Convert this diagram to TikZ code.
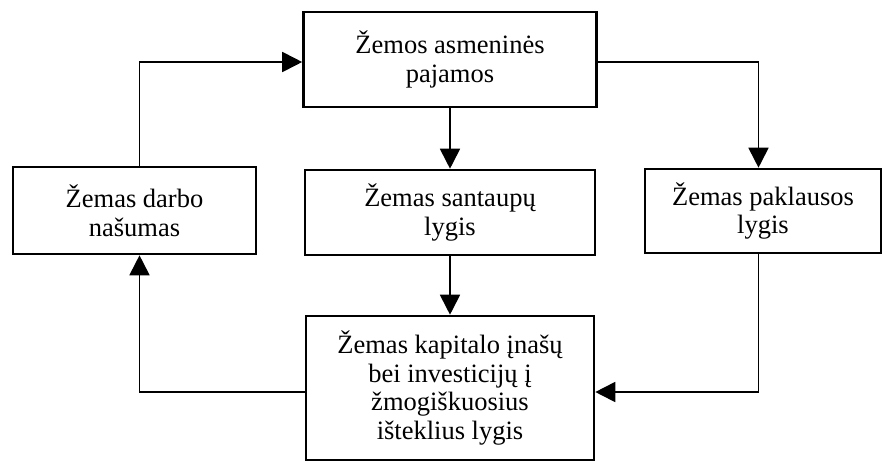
\documentclass[tikz,border=0pt]{standalone}
\usepackage{fontspec}
\setmainfont{Liberation Serif}
\usetikzlibrary{arrows.meta}

\begin{document}
\begin{tikzpicture}[
	x=1pt,y=-1pt,
	boxnode/.style={
		rectangle,draw=black,line width=2.6pt,align=center,inner sep=2pt,
		font=\fontsize{26.5}{28.5}\selectfont},
	transition/.style={-{Triangle[length=20pt,width=20pt]},line width=1.8pt,draw=black}
	]
	\useasboundingbox (0,0) rectangle (883,461);
	\node [boxnode, minimum width=293pt, minimum height=95pt] (pajamos) at (450,59.5) {Žemos asmeninės\\pajamos};
	\node [boxnode, minimum width=243pt, minimum height=87pt] (nasumas) at (134.5,210.5) {Žemas darbo\\našumas};
	\node [boxnode, minimum width=290pt, minimum height=85pt] (santaupos) at (450,212.5) {Žemas santaupų\\lygis};
	\node [boxnode, minimum width=236pt, minimum height=84pt] (paklausa) at (763,211) {Žemas paklausos\\lygis};
	\node [boxnode, minimum width=288pt, minimum height=144pt] (kapitalas) at (450,388) {Žemas kapitalo įnašų\\bei investicijų į\\žmogiškuosius\\išteklius lygis};

	\draw [transition] ([xshift=5pt]nasumas.north) |- ([yshift=-2.5pt]pajamos.west);
	\draw [transition] ([yshift=-2.5pt]pajamos.east) -| ([xshift=-4.5pt]paklausa.north);
	\draw [transition] (pajamos) -- (santaupos);
	\draw [transition] (santaupos) -- (kapitalas);
	\draw [transition] ([xshift=-4.5pt]paklausa.south) |- ([yshift=-4pt]kapitalas.east);
	\draw [transition] ([yshift=-4pt]kapitalas.west) -| ([xshift=5pt]nasumas.south);
\end{tikzpicture}
\end{document}
